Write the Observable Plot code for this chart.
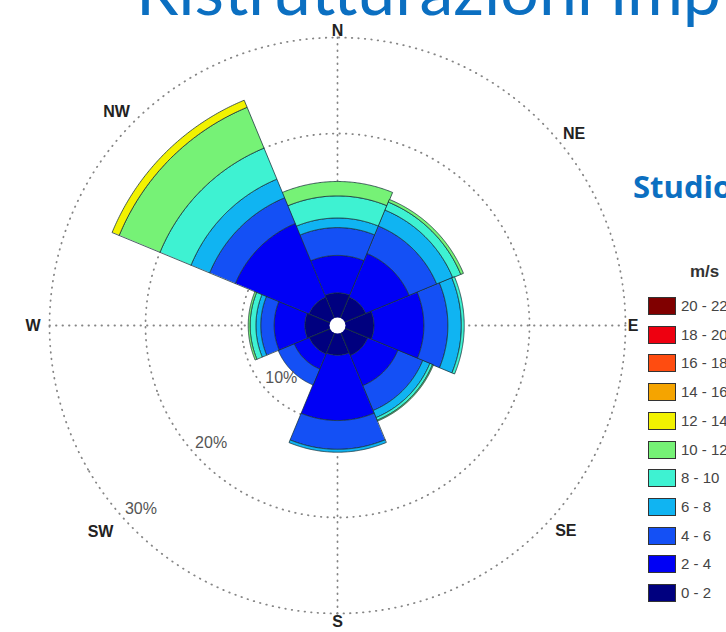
<!DOCTYPE html>
<html><head><meta charset="utf-8">
<script src="https://cdn.jsdelivr.net/npm/d3@7"></script>
<script src="https://cdn.jsdelivr.net/npm/@observablehq/plot@0.6"></script>
<style>
html,body{margin:0;padding:0;background:#fff;overflow:hidden;}
#wrap{position:relative;width:726px;height:632px;overflow:hidden;background:#fff;}
#chart{position:absolute;left:0;top:0;}
.title{position:absolute;left:136px;top:-45px;font-family:Lato,"Open Sans",sans-serif;font-size:68px;line-height:68px;color:#0b6fc1;white-space:nowrap;}
.studio{position:absolute;left:633px;top:166px;font-family:"Open Sans",Lato,sans-serif;font-weight:bold;font-size:31px;line-height:40px;color:#0b6fc1;white-space:nowrap;}
.units{position:absolute;left:690px;top:262px;font-family:"Liberation Sans",Arial,sans-serif;font-weight:bold;font-size:17px;line-height:20px;color:#333;white-space:nowrap;}
.lg{position:absolute;left:648px;height:20px;white-space:nowrap;font-family:"Liberation Sans",Arial,sans-serif;font-size:15px;line-height:20px;color:#444;}
.lg span.box{display:inline-block;width:26px;height:16px;border:1px solid #333;vertical-align:top;margin-top:1px;margin-right:5px;}
</style></head><body>
<div id="wrap">
  <div id="chart"></div>
  <div class="title">Ristrutturazioni impianti</div>
  <div class="studio">Studio</div>
  <div class="units">m/s</div>
  <div id="legend"></div>
</div>
<script>
// ---- data ----
const directions = ["N", "NE", "E", "SE", "S", "SW", "W", "NW"];
const bearings = [0, 45, 90, 135, 180, 225, 270, 315];
const speedClasses = ["0 - 2", "2 - 4", "4 - 6", "6 - 8", "8 - 10", "10 - 12", "12 - 14", "14 - 16", "16 - 18", "18 - 20", "20 - 22"];
const speedColors = ["#00007f", "#0000f5", "#1450f5", "#10b4f2", "#3ef2d2", "#76f276", "#f2f200", "#f5a400", "#ff4c10", "#ee0010", "#800000"];
// frequency (%) per direction [N, NE, E, SE, S, SW, W, NW]
const f0_2   = [3.1, 2.9, 3.5, 3.1, 2.8, 2.9, 3.1, 2.9];
const f2_4   = [3.9, 4.9, 5.2, 3.4, 6.8, 1.7, 3.2, 8.3];
const f4_6   = [2.9, 3.1, 2.5, 2.8, 3.0, 1.8, 1.4, 2.9];
const f6_8   = [1.0, 1.8, 1.4, 0.8, 0.3, 0.0, 0.5, 2.1];
const f8_10  = [2.3, 0.9, 0.3, 0.3, 0.0, 0.0, 0.6, 3.5];
const f10_12 = [1.5, 0.3, 0.0, 0.1, 0.0, 0.0, 0.2, 4.6];
const f12_14 = [0, 0, 0, 0, 0, 0, 0, 0.8];
const f14_16 = [0, 0, 0, 0, 0, 0, 0, 0];
const f16_18 = [0, 0, 0, 0, 0, 0, 0, 0];
const f18_20 = [0, 0, 0, 0, 0, 0, 0, 0];
const f20_22 = [0, 0, 0, 0, 0, 0, 0, 0];
const ringValues = [10, 20, 30];
const ringLabels = ["10%", "20%", "30%"];

// ---- layout ----
const series = [f0_2, f2_4, f4_6, f6_8, f8_10, f10_12, f12_14, f14_16, f16_18, f18_20, f20_22];
const labelBearing = [0, 51, 90, 132, 180, 229, 270, 314];
const labelRadius = [30.7, 31.7, 30.8, 32.0, 30.9, 32.7, 31.7, 32.0];
const sectorWidth = 45;
const toLon = b => 180 - b;

function sector(b0, b1, r0, r1) {
  const n = 90, ring = [];
  for (let i = 0; i <= n; i++) { const b = b0 + (b1 - b0) * i / n; ring.push([toLon(b), 90 - r1]); }
  for (let i = n; i >= 0; i--) { const b = b0 + (b1 - b0) * i / n; ring.push([toLon(b), 90 - r0]); }
  ring.push(ring[0]);
  let poly = {type: "Polygon", coordinates: [ring]};
  if (d3.geoArea(poly) > 2 * Math.PI) poly = {type: "Polygon", coordinates: [ring.slice().reverse()]};
  return poly;
}

const bands = [];
directions.forEach((dir, i) => {
  let cum = 0.3;
  series.forEach((s, j) => {
    const v = s[i];
    if (v > 0) {
      bands.push({dir, speed: speedClasses[j], geometry: sector(bearings[i] - sectorWidth / 2, bearings[i] + sectorWidth / 2, cum, cum + v)});
      cum += v;
    }
  });
});

const R = 31.5, pxPer = 9.6, cx = 337, cy = 325, W = 726, H = 632;
const rp = R * pxPer;

const dotted = {stroke: "#858585", strokeWidth: 1.8, strokeDasharray: "0.5,6", strokeLinecap: "round", fill: "none"};

const chart = Plot.plot({
  width: W, height: H,
  margin: 0,
  insetLeft: cx - rp, insetRight: W - cx - rp, insetTop: cy - rp, insetBottom: H - cy - rp,
  style: {fontFamily: "'Liberation Sans', Arial, sans-serif", background: "transparent", overflow: "visible"},
  projection: {type: "azimuthal-equidistant", rotate: [0, -90], domain: d3.geoCircle().center([0, 90]).radius(R)()},
  color: {type: "ordinal", domain: speedClasses, range: speedColors},
  marks: [
    Plot.geo(ringValues, {geometry: r => d3.geoCircle().center([0, 90]).radius(r).precision(1)(), ...dotted}),
    Plot.link([0, 90, 180, 270], {x1: b => toLon(b), y1: 90 - 30, x2: b => toLon(b), y2: 89.999, ...dotted}),
    Plot.geo(bands, {geometry: d => d.geometry, fill: d => d.speed, stroke: "#16303a", strokeWidth: 0.9, strokeOpacity: 0.85}),
    Plot.dot([0], {x: 0, y: 90, r: 8, fill: "white", stroke: null}),
    Plot.text(ringValues, {x: toLon(227), y: v => 90 - (v - 2), text: (v, i) => ringLabels[i], fill: "#555", fontSize: 16}),
    Plot.text(directions, {x: (d, i) => toLon(labelBearing[i]), y: (d, i) => 90 - labelRadius[i], text: d => d, fill: "#222", fontSize: 16, fontWeight: "bold"})
  ]
});
document.getElementById("chart").appendChild(chart);

// legend
const lg = document.getElementById("legend");
const order = speedClasses.map((s, j) => j).reverse();
order.forEach((j, k) => {
  const row = document.createElement("div");
  row.className = "lg";
  row.style.top = (296 + k * 28.7) + "px";
  row.innerHTML = `<span class="box" style="background:${speedColors[j]}"></span>${speedClasses[j]}`;
  lg.appendChild(row);
});
</script>
</body></html>
